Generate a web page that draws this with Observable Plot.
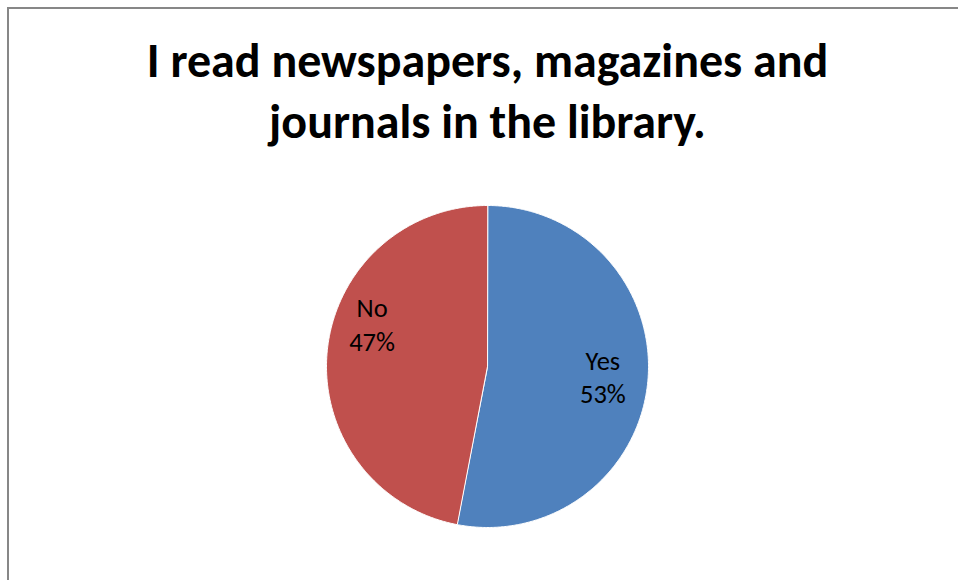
<!DOCTYPE html>
<html>
<head>
<meta charset="utf-8">
<script src="https://cdn.jsdelivr.net/npm/d3@7"></script>
<script src="https://cdn.jsdelivr.net/npm/@observablehq/plot@0.6"></script>
<style>
  html, body { margin: 0; padding: 0; background: #fff; width: 958px; height: 580px; overflow: hidden; }
  #chart { position: absolute; left: 0; top: 0; }
  #border { position: absolute; left: 7px; top: 7px; width: 1200px; height: 900px;
            border-top: 2px solid #878787; border-left: 2px solid #878787; pointer-events: none; z-index: 2; }
</style>
</head>
<body>
<div id="chart"></div>
<div id="border"></div>
<script>
// ---- data ----
const categories = ["Yes", "No"];
const values = [53, 47];
const colors = ["#4F81BD", "#C0504D"];
const titleLines = ["I read newspapers, magazines and", "journals in the library."];

// ---- layout (not data) ----
const labelRadius = 0.72;
const labelNudgeY = {Yes: -0.01, No: -0.2};
const FONT = "Carlito, Calibri, Lato, 'Open Sans', sans-serif";

const total = d3.sum(values);
const arcs = d3.pie().sort(null).value(d => d.value)(
  categories.map((c, i) => ({cat: c, value: values[i]}))
);

// slice outlines in unit-circle coordinates (geometry sampling of each wedge)
const slicePts = [];
for (const a of arcs) {
  slicePts.push({cat: a.data.cat, x: 0, y: 0});
  const n = Math.max(2, Math.ceil((a.endAngle - a.startAngle) / (Math.PI / 360)));
  for (let k = 0; k <= n; k++) {
    const t = a.startAngle + (a.endAngle - a.startAngle) * k / n;
    slicePts.push({cat: a.data.cat, x: Math.sin(t), y: -Math.cos(t)});
  }
}

const labels = arcs.map(a => {
  const m = (a.startAngle + a.endAngle) / 2;
  return {
    cat: a.data.cat,
    text: `${a.data.cat}\n${Math.round(a.data.value / total * 100)}%`,
    x: Math.sin(m) * labelRadius,
    y: -Math.cos(m) * labelRadius + labelNudgeY[a.data.cat]
  };
});

const plot = Plot.plot({
  width: 958,
  height: 580,
  margin: 0,
  style: {fontFamily: FONT, background: "white"},
  x: {domain: [-1, 1], range: [326, 648], axis: null},
  y: {domain: [-1, 1], range: [205, 527], axis: null},
  color: {domain: categories, range: colors},
  marks: [
    Plot.line(slicePts, {x: "x", y: "y", z: "cat", fill: "cat", stroke: "white", strokeWidth: 1, curve: "linear-closed"}),
    Plot.text(labels, {x: "x", y: "y", text: "text", fontSize: 26.5, lineHeight: 1.25, fill: "black", textAnchor: "middle"}),
    Plot.text([titleLines.join("\n")], {x: () => 0, frameAnchor: "top", lineAnchor: "top", dy: 33, text: d => d, fontSize: 48, fontWeight: "bold", lineHeight: 1.27, fill: "black", textAnchor: "middle"})
  ]
});
document.getElementById("chart").appendChild(plot);
</script>
</body>
</html>
